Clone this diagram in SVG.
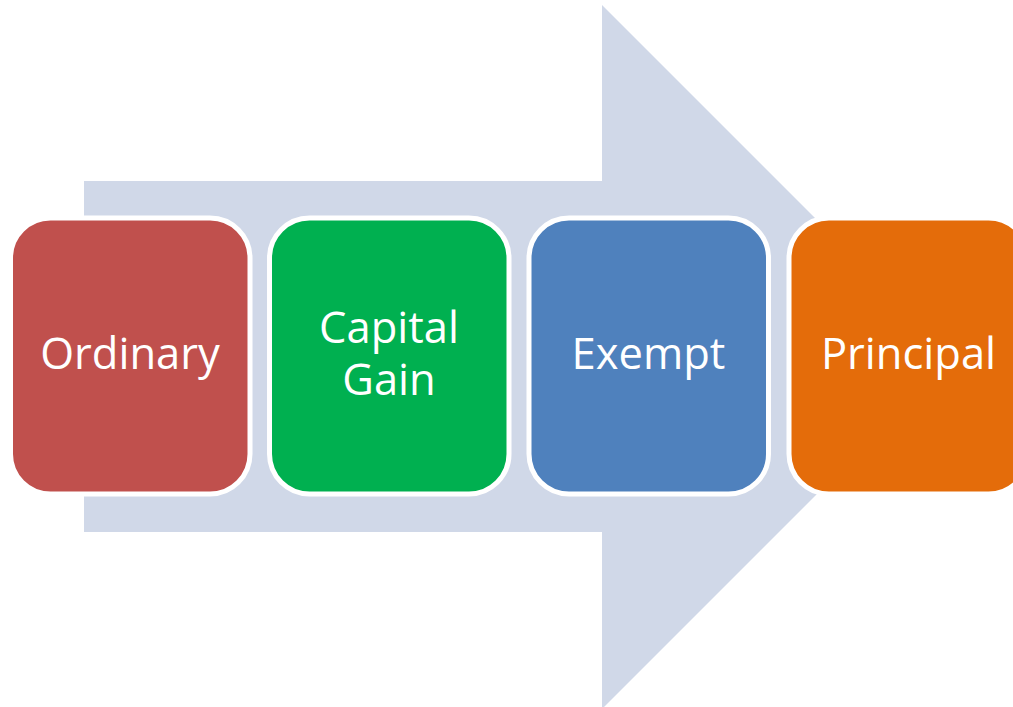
<svg xmlns="http://www.w3.org/2000/svg" width="1013" height="707" viewBox="0 0 1013 707">
  <style>
    .box { stroke: #ffffff; stroke-width: 5; }
    .label { font-family: "Open Sans", "Liberation Sans", sans-serif; font-size: 43.5px; fill: #ffffff; text-anchor: middle; }
  </style>
  <rect width="1013" height="707" fill="#ffffff"/>
  <!-- background process arrow -->
  <g id="arrow">
    <polygon points="84,181 602,181 602,5 954,357 602,709 602,532 84,532" fill="#D0D8E8"/>
  </g>
  <g id="ordinary">
    <rect class="box" x="10.5" y="218" width="239.5" height="276" rx="40" ry="40" fill="#C0504D"/>
    <text class="label" x="130" y="369">Ordinary</text>
  </g>
  <g id="capital-gain">
    <rect class="box" x="269.5" y="218" width="239.5" height="276" rx="40" ry="40" fill="#00B050"/>
    <!-- two-line label kept in a single text element -->
    <text class="label"><tspan x="389" y="343">Capital</tspan><tspan x="389" y="395">Gain</tspan></text>
  </g>
  <g id="exempt">
    <rect class="box" x="529" y="218" width="239.5" height="276" rx="40" ry="40" fill="#4F81BD"/>
    <text class="label" x="648.5" y="369">Exempt</text>
  </g>
  <g id="principal">
    <rect class="box" x="789" y="218" width="239.5" height="276" rx="40" ry="40" fill="#E46C0A"/>
    <text class="label" x="908.5" y="369">Principal</text>
  </g>
</svg>
